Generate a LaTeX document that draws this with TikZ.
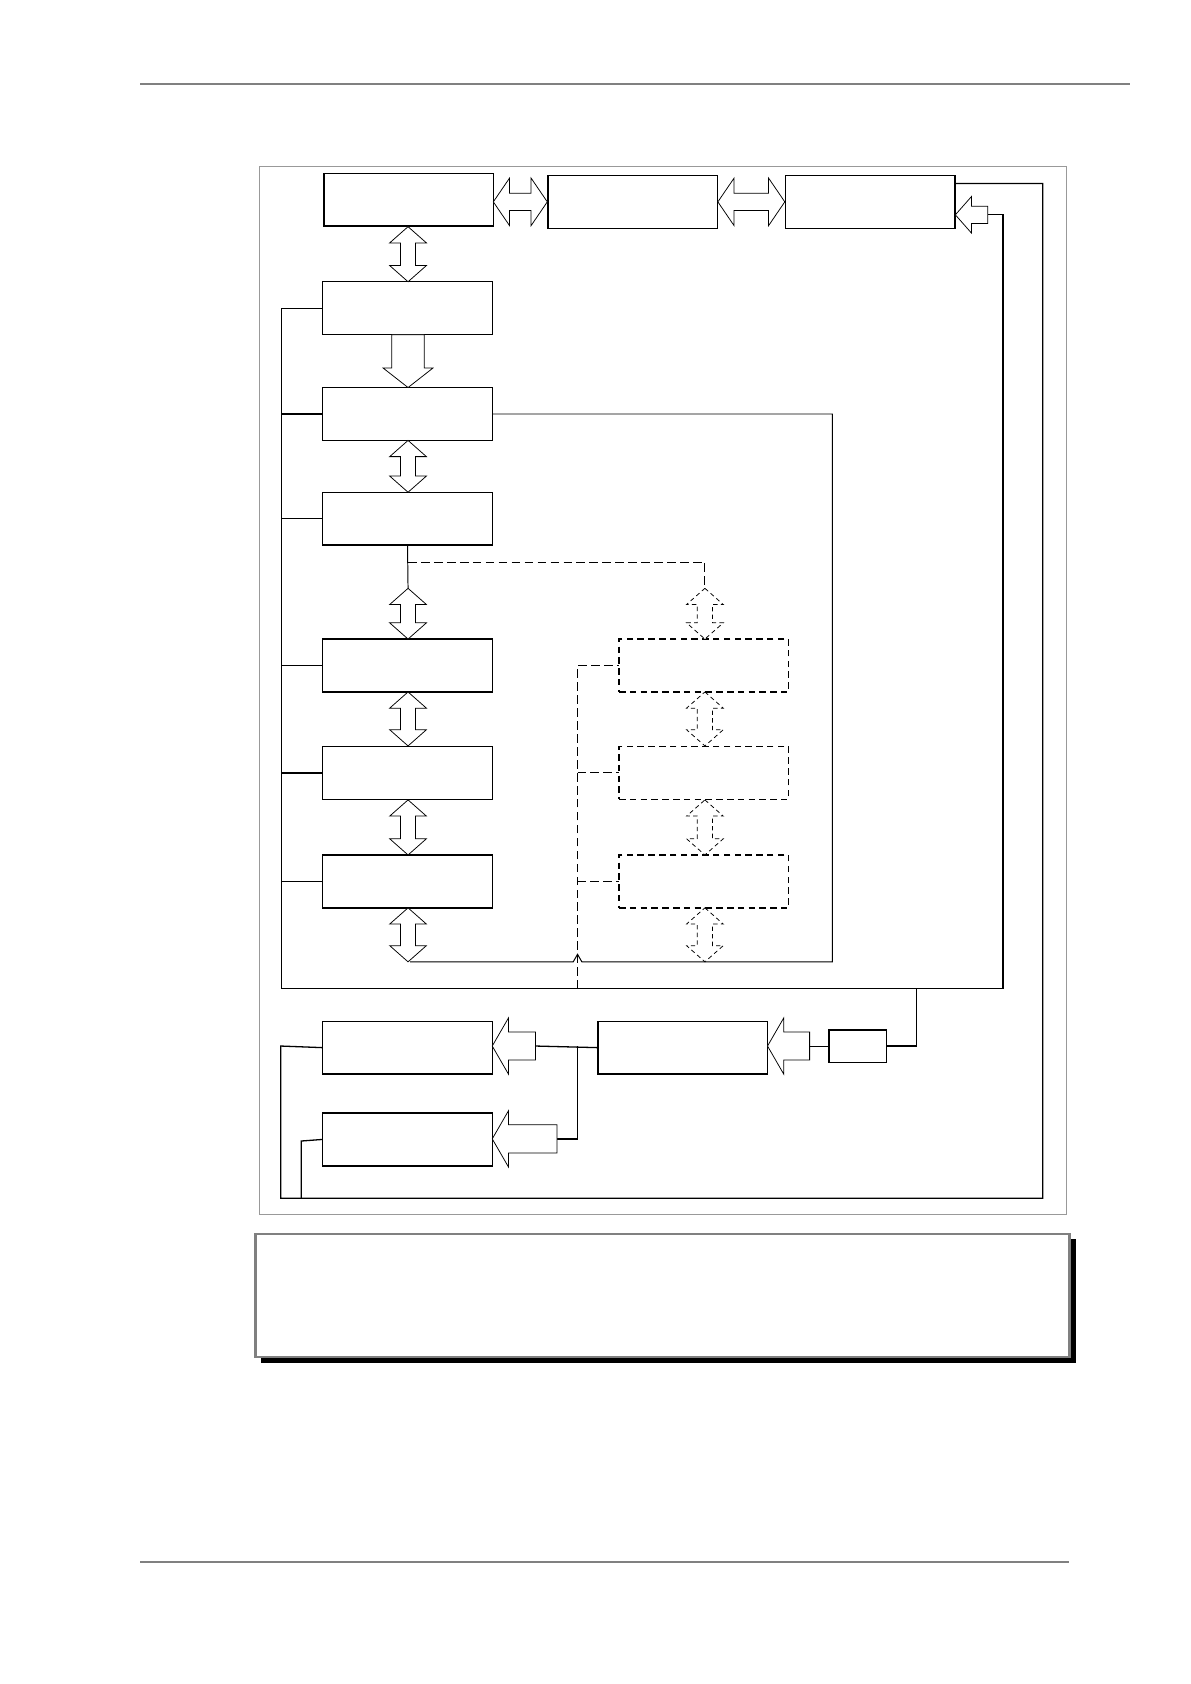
\documentclass[tikz,border=0pt]{standalone}
\begin{document}
\begin{tikzpicture}[x=1pt,y=-1pt,
  box/.style={draw,line width=1.3pt,minimum width=157pt,minimum height=49pt,inner sep=0pt,outer sep=0pt},
  dbox/.style={box,dashed,dash pattern=on 6pt off 4pt},
  bus/.style={line width=1.2pt},
  thin/.style={line width=0.9pt},
  blk/.style={draw,line width=0.7pt,fill=white},
  dblk/.style={blk,dashed,dash pattern=on 4pt off 3pt}]
\useasboundingbox (0,0) rectangle (1103,1560);
\newcommand\vdblarrow[4][blk]{\path[#1] (#2,#3) -- ({#2+17},{#3+15}) -- ({#2+7},{#3+15}) -- ({#2+7},{#4-15}) -- ({#2+17},{#4-15}) -- (#2,#4) -- ({#2-17},{#4-15}) -- ({#2-7},{#4-15}) -- ({#2-7},{#3+15}) -- ({#2-17},{#3+15}) -- cycle;}
\newcommand\hdblarrow[3]{\path[blk] (#1,#3) -- ({#1+15},{#3-22}) -- ({#1+15},{#3-8}) -- ({#2-15},{#3-8}) -- ({#2-15},{#3-22}) -- (#2,#3) -- ({#2-15},{#3+22}) -- ({#2-15},{#3+8}) -- ({#1+15},{#3+8}) -- ({#1+15},{#3+22}) -- cycle;}
\newcommand\larrow[5]{\path[blk] (#1,#3) -- ({#1+15},{#3-#4}) -- ({#1+15},{#3-#5}) -- (#2,{#3-#5}) -- (#2,{#3+#5}) -- ({#1+15},{#3+#5}) -- ({#1+15},{#3+#4}) -- cycle;}
\draw[gray,line width=1.5pt] (130,78) -- (1047,78);
\draw[gray,line width=1.5pt] (130,1447) -- (990,1447);
\draw[gray!80,line width=1pt] (240,154) rectangle (988,1125);
\fill[black] (242,1148) rectangle (997,1263);
\draw[gray,line width=2.5pt,fill=white] (237,1143) rectangle (991,1257);
\node[box] (A) at (378.5,185) {};
\node[box] (B) at (586,187) {};
\node[box] (C) at (806,187) {};
\node[box] (D) at (377.5,285.5) {};
\node[box] (E) at (377.5,383.5) {};
\node[box] (F) at (377.5,480.5) {};
\node[box] (G) at (377.5,616.5) {};
\node[box] (H) at (377.5,716) {};
\node[box] (I) at (377.5,816.5) {};
\node[dbox] (J) at (652,616.5) {};
\node[dbox] (K) at (652,716) {};
\node[dbox] (L) at (652,816.5) {};
\node[box] (M) at (377.5,970.5) {};
\node[box] (N) at (632.5,970.5) {};
\node[box] (O) at (377.5,1055.5) {};
\node[box,minimum width=53pt,minimum height=30pt] (P) at (794.5,969) {};
\coordinate (lb) at (261,916);
\coordinate (rb) at (929,916);
\draw[bus] (D.west) -- (261,285.5) -- (lb) -- (rb) -- (929,199) -- (915,199);
\foreach \n in {E,F,G,H,I} \draw[bus] (\n.west) -- (261,0 |- \n.west);
\draw[bus] (849,916) -- (849,969) -- (P.east);
\draw[thin] (E.east) -- (771,383.5) -- (771,891) -- (539,891) -- (535,884) -- (531,891) -- (380,891);
\draw[thin,dashed,dash pattern=on 8pt off 4pt] (535,916) -- (535,616.5) -- (J.west);
\draw[thin,dashed,dash pattern=on 8pt off 4pt] (535,716) -- (K.west);
\draw[thin,dashed,dash pattern=on 8pt off 4pt] (535,816.5) -- (L.west);
\draw[thin] (F.south) -- (378,545);
\draw[thin,dashed,dash pattern=on 8pt off 4pt] (378,521) -- (653,521) -- (653,545);
\draw[bus] (C.east |- 0,170) -- (966,170) -- (966,1110) -- (260,1110) -- (260,969) -- (M.west);
\draw[bus] (279,1110) -- (279,1057) -- (O.west);
\draw[bus] (496,969) -- (N.west);
\draw[bus] (535,969) -- (535,1055) -- (516,1055);
\draw[thin] (P.west) -- (750,969);
\vdblarrow{378}{210}{261}
\path[blk] (378,359) -- (401,341) -- (393,341) -- (393,310) -- (363,310) -- (363,341) -- (355,341) -- cycle;
\vdblarrow{378}{408}{456}
\vdblarrow{378}{545}{592}
\vdblarrow{378}{641}{691}
\vdblarrow{378}{741}{792}
\vdblarrow{378}{841}{891}
\vdblarrow[dblk]{653}{545}{592}
\vdblarrow[dblk]{653}{641}{691}
\vdblarrow[dblk]{653}{741}{792}
\vdblarrow[dblk]{653}{841}{891}
\hdblarrow{457}{507}{187}
\hdblarrow{665}{727}{187}
\larrow{885}{915}{199}{17}{8}
\larrow{456}{496}{969}{26}{13}
\larrow{456}{516}{1055}{26}{13}
\larrow{711}{750}{969}{26}{13}
\end{tikzpicture}
\end{document}
